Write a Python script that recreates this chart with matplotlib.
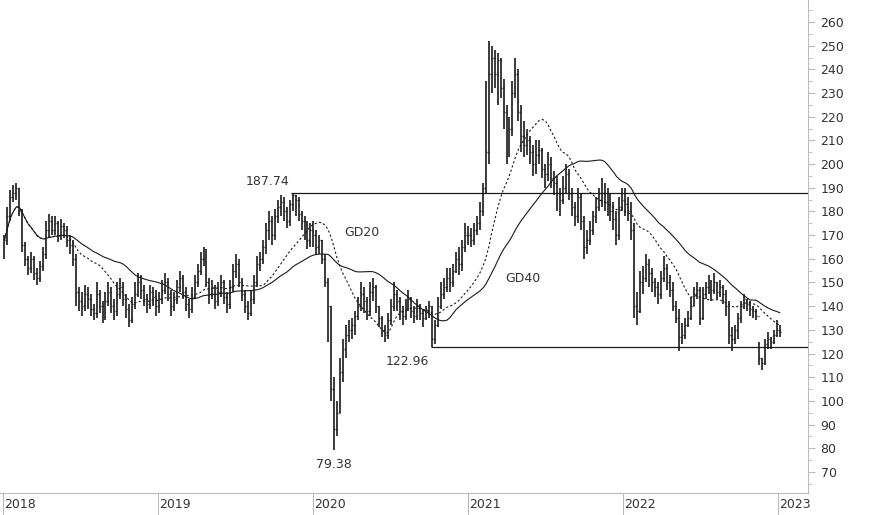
import numpy as np
import pandas as pd
import matplotlib
matplotlib.use("Agg")
import matplotlib.pyplot as plt

# weekly closes / highs / lows, Jan 2018 - Jan 2023
closes = [
    168, 178, 186, 188, 190, 180, 166, 160, 156, 160, 154, 152, 157,
    162, 172, 176, 172, 175, 170, 174, 172, 168, 166, 160, 146, 142,
    140, 145, 143, 139, 137, 145, 140, 136, 142, 146, 140, 138, 145,
    148, 143, 139, 134, 141, 145, 150, 147, 143, 141, 146, 144, 140,
    143, 147, 150, 145, 140, 143, 148, 152, 146, 141, 139, 144, 150,
    155, 160, 163, 150, 145, 148, 142, 146, 150, 144, 141, 148, 155,
    158, 150, 145, 140, 137, 143, 150, 158, 160, 165, 172, 176, 170,
    178, 182, 184, 180, 176, 183, 187, 185, 179, 176, 172, 168, 172,
    170, 165, 168, 160, 150, 140, 105, 88, 95, 112, 122, 128, 130,
    132, 136, 140, 145, 142, 138, 146, 148, 140, 135, 130, 128, 134,
    140, 145, 142, 138, 136, 140, 143, 138, 136, 140, 137, 135, 138,
    140, 126, 132, 140, 145, 148, 152, 150, 155, 160, 158, 165, 170,
    170, 168, 172, 175, 180, 190, 205, 238, 245, 238, 244, 232, 222,
    205, 215, 230, 238, 222, 212, 208, 210, 205, 200, 204, 206, 198,
    196, 200, 194, 192, 188, 185, 190, 196, 188, 182, 178, 186, 176,
    165, 168, 172, 178, 182, 185, 188, 184, 186, 180, 177, 170, 182,
    185, 183, 180, 172, 140, 138, 150, 152, 158, 154, 150, 148, 145,
    152, 156, 150, 147, 140, 135, 127, 128, 132, 135, 140, 145, 147,
    135, 145, 148, 150, 147, 150, 146, 148, 145, 140, 128, 126, 130,
    135, 140, 143, 141, 139, 138, 136, 118, 116, 124, 126, 125, 128, 130, 129,
]
highs = [
    170, 182, 189, 191, 192, 190, 181, 167, 161, 163, 161, 156, 159,
    165, 176, 179, 178, 178, 176, 177, 175, 174, 170, 168, 162, 148,
    146, 149, 148, 145, 141, 150, 147, 142, 146, 150, 148, 143, 150,
    152, 150, 145, 141, 144, 150, 154, 153, 149, 145, 149, 148, 147,
    146, 151, 154, 152, 147, 146, 151, 155, 153, 148, 143, 148, 153,
    158, 163, 165, 164, 152, 151, 149, 150, 153, 151, 146, 151, 158,
    162, 160, 152, 147, 142, 147, 153, 161, 163, 168, 175, 180, 178,
    181, 185, 187, 186, 182, 185, 187.74, 187, 186, 180, 178, 176, 175,
    176, 172, 170, 168, 162, 152, 140, 110, 100, 118, 126, 132, 134,
    135, 138, 144, 150, 148, 144, 150, 152, 149, 140, 136, 132, 137,
    143, 150, 147, 144, 140, 143, 147, 144, 140, 143, 141, 139, 140,
    142, 140, 134, 144, 150, 152, 156, 156, 158, 163, 165, 168, 175,
    174, 173, 175, 178, 184, 192, 235, 252, 250, 248, 247, 245, 236,
    225, 220, 235, 245, 240, 225, 218, 215, 212, 208, 210, 210, 207,
    200, 205, 203, 197, 195, 190, 195, 200, 198, 190, 184, 190, 188,
    178, 172, 176, 180, 186, 190, 194, 192, 190, 188, 184, 180, 186,
    190, 190, 186, 184, 175, 146, 155, 157, 162, 160, 156, 152, 150,
    155, 161, 158, 153, 150, 142, 139, 133, 135, 138, 144, 148, 150,
    148, 148, 150, 153, 151, 154, 150, 151, 149, 147, 142, 131, 132,
    137, 142, 145, 143, 142, 140, 139, 125, 118, 126, 129, 127, 130, 134, 132,
]
lows = [
    160, 166, 176, 184, 185, 178, 163, 157, 153, 154, 151, 149, 150,
    155, 160, 169, 170, 170, 167, 168, 169, 165, 162, 157, 140, 138,
    136, 138, 139, 136, 134, 135, 137, 133, 134, 140, 137, 134, 136,
    143, 140, 135, 131, 133, 139, 144, 143, 140, 137, 139, 140, 136,
    137, 141, 145, 142, 136, 138, 141, 146, 143, 138, 135, 137, 143,
    148, 153, 157, 148, 141, 143, 139, 140, 144, 141, 137, 139, 146,
    152, 148, 142, 137, 134, 136, 141, 148, 155, 158, 162, 168, 166,
    168, 175, 178, 176, 173, 174, 180, 178, 176, 172, 168, 164, 165,
    165, 162, 162, 158, 148, 125, 100, 79.38, 85, 95, 108, 118, 125,
    126, 128, 134, 138, 137, 134, 136, 142, 137, 131, 127, 125, 126,
    132, 138, 138, 134, 132, 134, 138, 135, 133, 134, 134, 131, 134,
    135, 122.96, 124, 131, 139, 143, 146, 146, 148, 154, 153, 155, 163,
    166, 165, 166, 170, 172, 178, 188, 200, 230, 232, 225, 228, 215,
    200, 203, 212, 228, 218, 205, 203, 204, 200, 195, 196, 200, 194,
    190, 193, 190, 187, 180, 178, 183, 188, 185, 178, 174, 175, 172,
    160, 162, 166, 170, 175, 180, 182, 180, 178, 176, 172, 166, 168,
    180, 178, 176, 168, 135, 132, 137, 145, 150, 148, 146, 144, 141,
    143, 150, 147, 144, 138, 133, 121, 124, 126, 131, 134, 140, 143,
    132, 134, 143, 145, 142, 145, 143, 144, 141, 136, 124, 121, 124,
    126, 133, 139, 138, 136, 135, 134, 115, 113, 115, 122, 122, 124, 127, 127,
]
first_open = 165
year_ticks = [2018, 2019, 2020, 2021, 2022, 2023]
price_ticks = list(range(70, 261, 10))

c = pd.Series(closes, dtype=float)
opens = np.r_[first_open, c.values[:-1]]
t = 2018.01 + np.arange(len(c)) * 7 / 365.25
gd20 = c.rolling(20, min_periods=1).mean()
gd40 = c.rolling(40, min_periods=1).mean()

fig = plt.figure(figsize=(8.74, 5.15), dpi=100)
ax = fig.add_axes([0, 0.0427, 0.9245, 0.9573])
col = "#1a1a1a"
tick = 2.3 / 365.25
ax.vlines(t, lows, highs, color=col, lw=1.2)
ax.hlines(opens, t - tick, t, color=col, lw=1.0)
ax.hlines(closes, t, t + tick, color=col, lw=1.0)
ax.plot(t, gd20, color=col, lw=0.8, ls=(0, (2, 2)))
ax.plot(t, gd40, color=col, lw=0.8)

xr = 2023.194
i_hi = highs.index(187.74)
i_lo = lows.index(79.38)
i_lo2 = lows.index(122.96)
ax.hlines(187.74, t[i_hi] - 0.01, xr, color=col, lw=0.9)
ax.hlines(122.96, t[i_lo2] - 0.01, xr, color=col, lw=0.9)
tc = "#333333"
ax.text(t[i_hi] - 0.02, 190, "187.74", ha="right", va="bottom", fontsize=9, color=tc)
ax.text(t[i_lo], 76, "79.38", ha="center", va="top", fontsize=9, color=tc)
ax.text(t[i_lo2] - 0.02, 119.5, "122.96", ha="right", va="top", fontsize=9, color=tc)
ax.text(2020.2, 171, "GD20", ha="left", va="center", fontsize=9, color=tc)
ax.text(2021.24, 151.5, "GD40", ha="left", va="center", fontsize=9, color=tc)

ax.set_xlim(2017.981, xr)
ax.set_ylim(61.1, 269.3)
ax.yaxis.tick_right()
ax.set_yticks(price_ticks)
ax.set_yticks(np.arange(65, 266, 10), minor=True)
ax.set_xticks(year_ticks)
ax.set_xticklabels([])
for y in year_ticks:
    ax.text(y + 0.01, -0.01, str(y), transform=ax.get_xaxis_transform(),
            ha="left", va="top", fontsize=9, color=tc)
for s in ["top", "left"]:
    ax.spines[s].set_visible(False)
for s in ["right", "bottom"]:
    ax.spines[s].set_color("#bbbbbb")
ax.tick_params(axis="y", which="major", length=5, color="#bbbbbb", labelsize=9, labelcolor=tc, pad=4)
ax.tick_params(axis="y", which="minor", length=3, color="#bbbbbb")
ax.tick_params(axis="x", direction="out", length=22, color="#bbbbbb")
fig.savefig("out.png", dpi=100)
